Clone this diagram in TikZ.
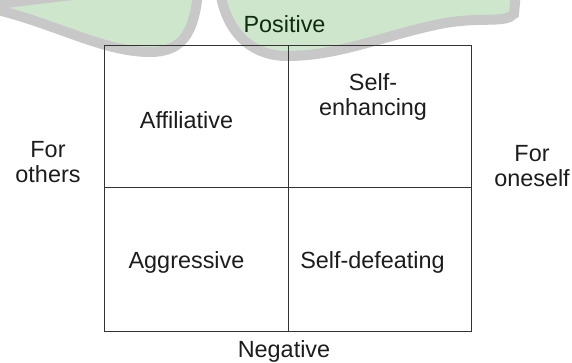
\documentclass[tikz,border=0pt]{standalone}
\usepackage{fontspec}
\setmainfont{Liberation Sans}
\usepackage{tikz}

\definecolor{leafgreen}{HTML}{CEE6CC}
\definecolor{leafrim}{HTML}{C8C8C8}
\definecolor{ink}{HTML}{1C1C1C}

\begin{document}
\begin{tikzpicture}[x=1pt,y=-1pt]
\useasboundingbox (0,0) rectangle (572,363);
% leaf shapes behind the grid
\begin{scope}[leaf/.style={fill=leafgreen,draw=leafrim,line width=10pt}]
    \clip (0,0) rectangle (572,363);
    \path [leaf] (-20,6) .. controls (50,20) and (100,52) .. (150,52)
        .. controls (185,52) and (196,30) .. (199,-20) -- cycle;
    \path [leaf] (219,-20) .. controls (222,30) and (250,56) .. (287,56)
        .. controls (340,56) and (385,35) .. (440,24)
        .. controls (480,16) and (505,24) .. (514,14) -- (517,-20) -- cycle;
\end{scope}
% quadrant grid
\begin{scope}[gridline/.style={draw=ink!90,line width=0.9pt}]
    \draw [gridline] (104,45) rectangle (471,331);
    \draw [gridline] (288,45) -- (288,331);
    \draw [gridline] (104,187) -- (471,187);
\end{scope}
\begin{scope}[every node/.style={anchor=base,inner sep=0pt,align=center,
              text=ink,font=\fontsize{23.4}{25}\selectfont}]
    \node (Pos) at (284.5,33) {\color{ink!80!green!60!black}Positive};
    \node (Neg) at (284,357) {Negative};
    \node (Others) at (48,183) {For\\others};
    \node (Oneself) at (532,187) {For\\oneself};
    \node (Affil) at (186.5,129) {Affiliative};
    \node (Enh) at (373,116) {Self-\\enhancing};
    \node (Aggr) at (186.5,268) {Aggressive};
    \node (Defeat) at (372.5,268) {Self-defeating};
\end{scope}
\end{tikzpicture}
\end{document}
